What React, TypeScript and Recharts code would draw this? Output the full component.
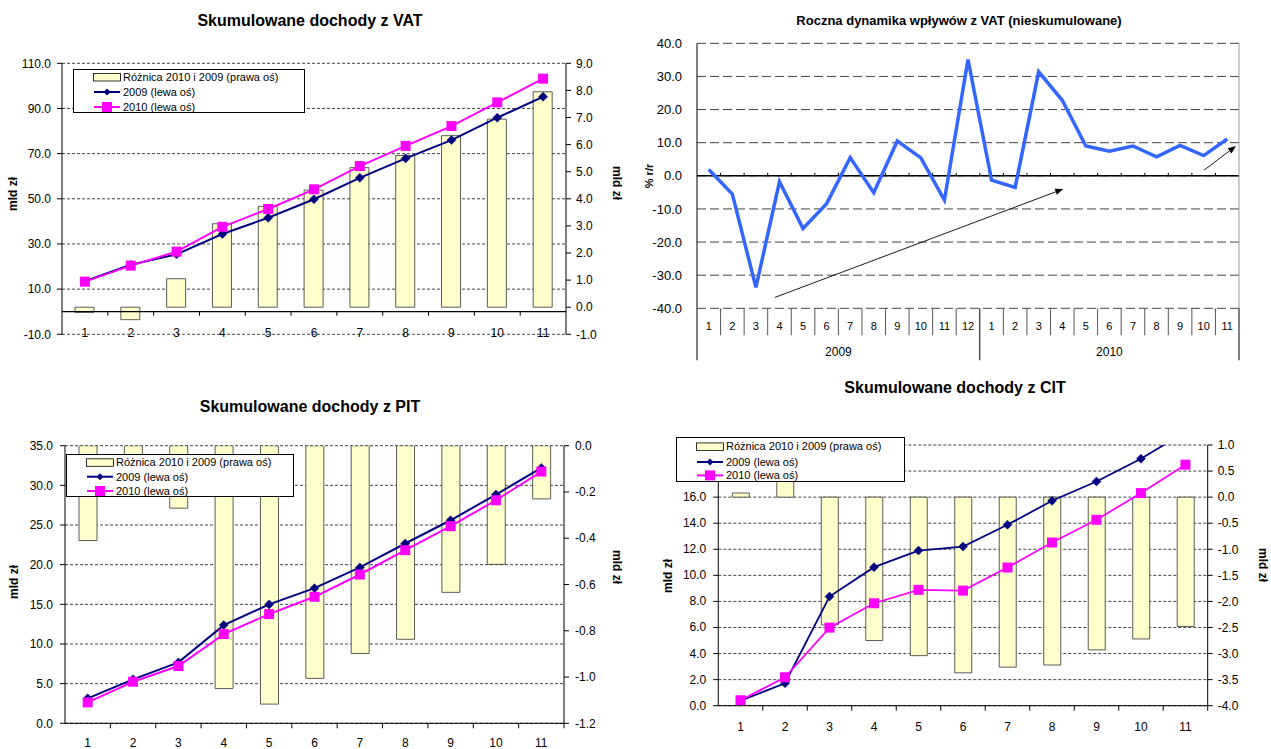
import React from 'react';
import {
  ComposedChart,
  Bar,
  Line,
  XAxis,
  YAxis,
  CartesianGrid,
  ReferenceLine,
  Legend,
  Label,
} from 'recharts';

const FONT = '"Liberation Sans", Arial, Helvetica, sans-serif';
const NAVY = '#000080';
const MAGENTA = '#FF00FF';
const BAR_FILL = '#FFFFCC';
const DYN_BLUE = '#3366FF';

// ---------- data ----------
const months = ['1', '2', '3', '4', '5', '6', '7', '8', '9', '10', '11'];
const legendNames = ['Różnica 2010 i 2009 (prawa oś)', '2009 (lewa oś)', '2010 (lewa oś)'];

// VAT cumulative
const vatDiff = [-0.19, -0.46, 1.05, 3.08, 3.72, 4.32, 5.15, 5.6, 6.33, 6.94, 7.95];
const vat2009 = [13.5, 20.8, 25.4, 34.4, 41.6, 49.8, 59.3, 67.9, 76.0, 85.9, 95.2];
const vat2010 = [13.3, 20.4, 26.6, 37.6, 45.5, 54.2, 64.5, 73.4, 82.2, 92.7, 103.2];
const vatLeftTicks = [-10, 10, 30, 50, 70, 90, 110];
const vatRightTicks = [-1, 0, 1, 2, 3, 4, 5, 6, 7, 8, 9];

// VAT yearly dynamics (non cumulative)
const dynYears = ['2009', '2010'];
const dynMonths2009 = ['1', '2', '3', '4', '5', '6', '7', '8', '9', '10', '11', '12'];
const dynMonths2010 = ['1', '2', '3', '4', '5', '6', '7', '8', '9', '10', '11'];
const dynValues = [
  1.9, -5.5, -33.7, -1.8, -15.9, -8.4, 5.5, -5.1, 10.5, 5.4, -7.3, 35.1,
  -1.3, -3.5, 31.4, 22.8, 9.0, 7.4, 9.0, 5.7, 9.2, 6.1, 11.1,
];
const dynTicks = [-40, -30, -20, -10, 0, 10, 20, 30, 40];
// trend arrows, in (category units from left edge, % r/r)
const dynArrows = [
  { x1: 3.31, y1: -36.7, x2: 15.54, y2: -4.0 },
  { x1: 21.52, y1: 1.7, x2: 22.87, y2: 9.0 },
];

// PIT cumulative
const pitDiff = [-0.41, -0.15, -0.27, -1.05, -1.117, -1.006, -0.898, -0.837, -0.634, -0.513, -0.23];
const pit2009 = [3.15, 5.54, 7.68, 12.38, 14.99, 17.04, 19.65, 22.67, 25.6, 28.84, 32.2];
const pit2010 = [2.64, 5.24, 7.22, 11.25, 13.77, 15.95, 18.76, 21.83, 24.85, 28.12, 31.74];
const pitLeftTicks = [0, 5, 10, 15, 20, 25, 30, 35];
const pitRightTicks = [-1.2, -1.0, -0.8, -0.6, -0.4, -0.2, 0];

// CIT cumulative
const citDiff = [0.08, 0.45, -2.45, -2.75, -3.04, -3.37, -3.26, -3.22, -2.93, -2.72, -2.48];
const cit2009 = [0.38, 1.72, 8.37, 10.63, 11.9, 12.21, 13.88, 15.72, 17.2, 18.95, 21.0];
const cit2010 = [0.42, 2.18, 5.99, 7.86, 8.89, 8.83, 10.6, 12.52, 14.26, 16.31, 18.49];
const citLeftTicks = [0, 2, 4, 6, 8, 10, 12, 14, 16, 18, 20];
const citRightTicks = [-4, -3.5, -3, -2.5, -2, -1.5, -1, -0.5, 0, 0.5, 1];

// ---------- tables ----------
const build = (diff: number[], a: number[], b: number[]) =>
  months.map((m, i) => ({ m, diff: diff[i], y2009: a[i], y2010: b[i] }));
const vatData = build(vatDiff, vat2009, vat2010);
const pitData = build(pitDiff, pit2009, pit2010);
const citData = build(citDiff, cit2009, cit2010);
const dynKeys = [
  ...dynMonths2009.map((m) => `${dynYears[0]}-${m}`),
  ...dynMonths2010.map((m) => `${dynYears[1]}-${m}`),
];
const dynData = dynKeys.map((key, i) => ({ key, idx: i + 0.5, v: dynValues[i] }));

// ---------- helpers ----------
const f1 = (v: number) => Number(v).toFixed(1);
const tickStyle = { fontSize: 12, fill: '#000', fontFamily: FONT };

const DiamondDot = (props: any) => {
  const { cx, cy, index } = props;
  if (cx == null || cy == null) return <g key={`d${index}`} />;
  const r = 4.5;
  return (
    <polygon
      key={`d${index}`}
      points={`${cx},${cy - r} ${cx + r},${cy} ${cx},${cy + r} ${cx - r},${cy}`}
      fill={NAVY}
      stroke={NAVY}
      strokeWidth={0.5}
    />
  );
};

const SquareDot = (props: any) => {
  const { cx, cy, index } = props;
  if (cx == null || cy == null) return <g key={`s${index}`} />;
  return <rect key={`s${index}`} x={cx - 5} y={cy - 5} width={10} height={10} fill={MAGENTA} />;
};

const makeCatTick = (dy: number, tickLen: number, fallbackOff: number) => (props: any) => {
  const { x, y, payload } = props;
  const off = payload && payload.offset != null ? payload.offset : fallbackOff;
  return (
    <g>
      <text
        x={x}
        y={y + dy}
        textAnchor="middle"
        dominantBaseline="central"
        fontSize={12}
        fontFamily={FONT}
        fill="#000"
      >
        {payload.value}
      </text>
      {tickLen > 0 && (
        <line x1={x + off} x2={x + off} y1={y} y2={y + tickLen} stroke="#000" strokeWidth={1} />
      )}
    </g>
  );
};

const DynTick = (props: any) => {
  const { x, y, payload, index } = props;
  const off = payload && payload.offset != null ? payload.offset : 11.78;
  const [year, month] = String(payload.value).split('-');
  const i = index;
  const isYearStart = month === '1';
  const isLast = i === dynKeys.length - 1;
  const count = year === dynYears[0] ? dynMonths2009.length : dynMonths2010.length;
  return (
    <g>
      <text
        x={x}
        y={y + 17.5}
        textAnchor="middle"
        dominantBaseline="central"
        fontSize={11}
        fontFamily={FONT}
        fill="#000"
      >
        {month}
      </text>
      <line
        x1={x - off}
        x2={x - off}
        y1={y}
        y2={isYearStart ? y + 52 : y + 27}
        stroke={isYearStart ? '#000' : '#555'}
        strokeWidth={1}
      />
      {isLast && <line x1={x + off} x2={x + off} y1={y} y2={y + 52} stroke="#000" strokeWidth={1} />}
      {isYearStart && (
        <text
          x={x - off + count * off}
          y={y + 44}
          textAnchor="middle"
          dominantBaseline="central"
          fontSize={12}
          fontFamily={FONT}
          fill="#000"
        >
          {year}
        </text>
      )}
    </g>
  );
};

const zeroAxis = (n: number, up: number, down: number, width = 1.2) => (props: any) => {
  const { x1, x2, y1 } = props;
  if (x1 == null) return <g />;
  const band = (x2 - x1) / n;
  const marks = [];
  for (let k = 1; k < n; k++) {
    marks.push(
      <line key={k} x1={x1 + k * band} x2={x1 + k * band} y1={y1 - up} y2={y1 + down} stroke="#000" strokeWidth={1} />
    );
  }
  return (
    <g>
      <line x1={x1} x2={x2} y1={y1} y2={y1} stroke="#000" strokeWidth={width} />
      {marks}
    </g>
  );
};

const ArrowShape = (props: any) => {
  const { x1, y1, x2, y2 } = props;
  if (x1 == null) return <g />;
  const ang = Math.atan2(y2 - y1, x2 - x1);
  const L = 8;
  const W = 3.2;
  const bx = x2 - L * Math.cos(ang);
  const by = y2 - L * Math.sin(ang);
  const px = -Math.sin(ang) * W;
  const py = Math.cos(ang) * W;
  return (
    <g>
      <line x1={x1} y1={y1} x2={bx} y2={by} stroke="#000" strokeWidth={0.9} />
      <polygon points={`${x2},${y2} ${bx + px},${by + py} ${bx - px},${by - py}`} fill="#000" />
    </g>
  );
};

const axisTitle = (text: string, x: number, y: number, angle: number, size = 12) => (
  <Label
    content={() => (
      <text
        x={x}
        y={y}
        transform={`rotate(${angle} ${x} ${y})`}
        textAnchor="middle"
        dominantBaseline="central"
        fontSize={size}
        fontWeight="bold"
        fontFamily={FONT}
        fill="#000"
      >
        {text}
      </text>
    )}
  />
);

const makeLegend = (w: number, h: number, rows: number[]) => () => (
  <svg width={w} height={h} style={{ display: 'block' }}>
    <rect x={0.5} y={0.5} width={w - 1} height={h - 1} fill="#fff" stroke="#000" strokeWidth={1} />
    <rect x={20.5} y={rows[0] - 3.5} width={27} height={7.5} fill={BAR_FILL} stroke="#000" strokeWidth={0.8} />
    <line x1={21} x2={47} y1={rows[1]} y2={rows[1]} stroke={NAVY} strokeWidth={2} />
    <polygon
      points={`34,${rows[1] - 3.5} 37.5,${rows[1]} 34,${rows[1] + 3.5} 30.5,${rows[1]}`}
      fill={NAVY}
    />
    <line x1={21} x2={47} y1={rows[2]} y2={rows[2]} stroke={MAGENTA} strokeWidth={2} />
    <rect x={29} y={rows[2] - 5} width={10} height={10} fill={MAGENTA} />
    {legendNames.map((t, i) => (
      <text
        key={t}
        x={50}
        y={rows[i]}
        dominantBaseline="central"
        fontSize={11}
        fontFamily={FONT}
        fill="#000"
      >
        {t}
      </text>
    ))}
  </svg>
);

const citLeftTick = (props: any) => {
  const { x, y, payload } = props;
  if (payload.value > 16) return <g />;
  return (
    <text x={x} y={y} textAnchor="end" dominantBaseline="central" fontSize={12} fontFamily={FONT} fill="#000">
      {f1(payload.value)}
    </text>
  );
};

const Title = ({ text, cx, cy, size }: { text: string; cx: number; cy: number; size: number }) => (
  <div
    style={{
      position: 'absolute',
      left: cx - 300,
      top: cy - 10,
      width: 600,
      height: 20,
      lineHeight: '20px',
      textAlign: 'center',
      fontFamily: FONT,
      fontWeight: 'bold',
      fontSize: size,
      color: '#000',
      whiteSpace: 'nowrap',
    }}
  >
    {text}
  </div>
);

const gridProps = { vertical: false, stroke: '#444', strokeDasharray: '3 2' } as const;
const yAxisCommon = {
  tick: tickStyle,
  tickFormatter: f1,
  axisLine: { stroke: '#000' },
  tickLine: { stroke: '#000' },
  tickSize: 5,
  interval: 0 as const,
  allowDataOverflow: true,
};

const legendNeutral = { layout: 'horizontal' as const, verticalAlign: 'middle' as const, align: 'center' as const };

export default function App() {
  return (
    <div
      style={{
        position: 'fixed',
        left: 0,
        top: 0,
        width: 1271,
        height: 749,
        background: '#fff',
        overflow: 'hidden',
      }}
    >
      <Title text="Skumulowane dochody z VAT" cx={310} cy={21} size={16} />
      <Title text="Roczna dynamika wpływów z VAT (nieskumulowane)" cx={959} cy={21} size={13} />
      <Title text="Skumulowane dochody z PIT" cx={310} cy={407} size={16} />
      <Title text="Skumulowane dochody z CIT" cx={955} cy={388} size={16} />

      {/* Panel 1: VAT cumulative */}
      <div style={{ position: 'absolute', left: 0, top: 0 }}>
        <ComposedChart width={640} height={360} data={vatData} margin={{ top: 63.3, right: 30, bottom: 5.7, left: 0 }}>
          <CartesianGrid yAxisId="left" {...gridProps} />
          <XAxis
            dataKey="m"
            height={20}
            axisLine={false}
            tickLine={false}
            tickSize={0}
            tickMargin={0}
            interval={0}
            tick={makeCatTick(-1, 0, 22.9)}
          />
          <YAxis yAxisId="left" width={62} domain={[-10, 110]} ticks={vatLeftTicks} tickMargin={6} {...yAxisCommon}>
            {axisTitle('mld zł', 13.3, 194, -90)}
          </YAxis>
          <YAxis
            yAxisId="right"
            orientation="right"
            width={44}
            domain={[-1, 9]}
            ticks={vatRightTicks}
            tickMargin={5}
            {...yAxisCommon}
          >
            {axisTitle('mld zł', 617, 183, 90)}
          </YAxis>
          <Bar yAxisId="right" dataKey="diff" barSize={19} fill={BAR_FILL} stroke="#333" strokeWidth={0.8} isAnimationActive={false} />
          <ReferenceLine yAxisId="left" y={0} shape={zeroAxis(11, 0, 4)} />
          <Line yAxisId="left" dataKey="y2009" stroke={NAVY} strokeWidth={2} dot={DiamondDot} activeDot={false} isAnimationActive={false} />
          <Line yAxisId="left" dataKey="y2010" stroke={MAGENTA} strokeWidth={2} dot={SquareDot} activeDot={false} isAnimationActive={false} />
          <Legend
            {...legendNeutral}
            content={makeLegend(232, 44, [8, 23, 38])}
            wrapperStyle={{ left: 72.7, top: 69, width: 232, height: 44, lineHeight: 0 }}
          />
        </ComposedChart>
      </div>

      {/* Panel 2: VAT yearly dynamics */}
      <div style={{ position: 'absolute', left: 640, top: 0 }}>
        <ComposedChart width={631} height={370} data={dynData} margin={{ top: 43.3, right: 32, bottom: 6.7, left: 0 }}>
          <CartesianGrid vertical={false} stroke="#444" strokeDasharray="9 4" />
          <XAxis
            dataKey="key"
            scale="band"
            height={55}
            axisLine={false}
            tickLine={false}
            tickSize={0}
            tickMargin={0}
            interval={0}
            tick={DynTick}
          />
          <XAxis xAxisId="num" type="number" dataKey="idx" domain={[0, 23]} allowDataOverflow hide />
          <YAxis
            width={57}
            domain={[-40, 40]}
            ticks={dynTicks}
            tickFormatter={f1}
            tick={{ fontSize: 13, fill: '#000', fontFamily: FONT }}
            tickLine={false}
            tickMargin={9}
            axisLine={{ stroke: '#000' }}
            interval={0}
          >
            {axisTitle('% r/r', 8.5, 176, -90, 11)}
          </YAxis>
          <ReferenceLine y={0} shape={zeroAxis(23, 3, 0, 1.5)} />
          <ReferenceLine xAxisId="num" x={23} stroke="#999" />
          {dynArrows.map((a, i) => (
            <ReferenceLine
              key={`arrow${i}`}
              xAxisId="num"
              segment={[
                { x: a.x1, y: a.y1 },
                { x: a.x2, y: a.y2 },
              ]}
              shape={ArrowShape}
            />
          ))}
          <Line dataKey="v" stroke={DYN_BLUE} strokeWidth={3.5} dot={false} activeDot={false} isAnimationActive={false} />
        </ComposedChart>
      </div>

      {/* Panel 3: PIT cumulative */}
      <div style={{ position: 'absolute', left: 0, top: 380 }}>
        <ComposedChart width={640} height={369} data={pitData} margin={{ top: 65.7, right: 32, bottom: 0.7, left: 0 }}>
          <CartesianGrid yAxisId="left" {...gridProps} />
          <XAxis
            dataKey="m"
            height={25}
            axisLine={{ stroke: '#000' }}
            tickLine={false}
            tickSize={0}
            tickMargin={0}
            interval={0}
            tick={makeCatTick(20, 5, 22.7)}
          />
          <YAxis yAxisId="left" width={65} domain={[0, 35]} ticks={pitLeftTicks} tickMargin={7} {...yAxisCommon}>
            {axisTitle('mld zł', 13.5, 202, -90)}
          </YAxis>
          <YAxis
            yAxisId="right"
            orientation="right"
            width={44}
            domain={[-1.2, 0]}
            ticks={pitRightTicks}
            tickMargin={6}
            {...yAxisCommon}
          >
            {axisTitle('mld zł', 617, 187, 90)}
          </YAxis>
          <Bar yAxisId="right" dataKey="diff" barSize={18} fill={BAR_FILL} stroke="#333" strokeWidth={0.8} isAnimationActive={false} />
          <Line yAxisId="left" dataKey="y2009" stroke={NAVY} strokeWidth={2} dot={DiamondDot} activeDot={false} isAnimationActive={false} />
          <Line yAxisId="left" dataKey="y2010" stroke={MAGENTA} strokeWidth={2} dot={SquareDot} activeDot={false} isAnimationActive={false} />
          <Legend
            {...legendNeutral}
            content={makeLegend(228, 43, [8.3, 22.7, 37])}
            wrapperStyle={{ left: 65.7, top: 74, width: 228, height: 43, lineHeight: 0 }}
          />
        </ComposedChart>
      </div>

      {/* Panel 4: CIT cumulative */}
      <div style={{ position: 'absolute', left: 640, top: 370 }}>
        <ComposedChart width={631} height={379} data={citData} margin={{ top: 75, right: 23.3, bottom: 18.3, left: 0 }}>
          <CartesianGrid yAxisId="left" {...gridProps} />
          <XAxis
            dataKey="m"
            height={25}
            axisLine={{ stroke: '#000' }}
            tickLine={false}
            tickSize={0}
            tickMargin={0}
            interval={0}
            tick={makeCatTick(21, 5, 22.25)}
          />
          <YAxis
            yAxisId="left"
            width={78.3}
            domain={[0, 20]}
            ticks={citLeftTicks}
            tickMargin={7}
            {...yAxisCommon}
            tick={citLeftTick}
          >
            {axisTitle('mld zł', 27.5, 206, -90)}
          </YAxis>
          <YAxis
            yAxisId="right"
            orientation="right"
            width={40}
            domain={[-4, 1]}
            ticks={citRightTicks}
            tickMargin={5}
            {...yAxisCommon}
          >
            {axisTitle('mld zł', 623, 195, 90)}
          </YAxis>
          <Bar yAxisId="right" dataKey="diff" barSize={17} fill={BAR_FILL} stroke="#333" strokeWidth={0.8} isAnimationActive={false} />
          <Line yAxisId="left" dataKey="y2009" stroke={NAVY} strokeWidth={1.8} dot={DiamondDot} activeDot={false} isAnimationActive={false} />
          <Line yAxisId="left" dataKey="y2010" stroke={MAGENTA} strokeWidth={1.8} dot={SquareDot} activeDot={false} isAnimationActive={false} />
          <Legend
            {...legendNeutral}
            content={makeLegend(229, 45, [9.4, 25, 38.4])}
            wrapperStyle={{ left: 35.7, top: 67.3, width: 229, height: 45, lineHeight: 0 }}
          />
        </ComposedChart>
      </div>
    </div>
  );
}
